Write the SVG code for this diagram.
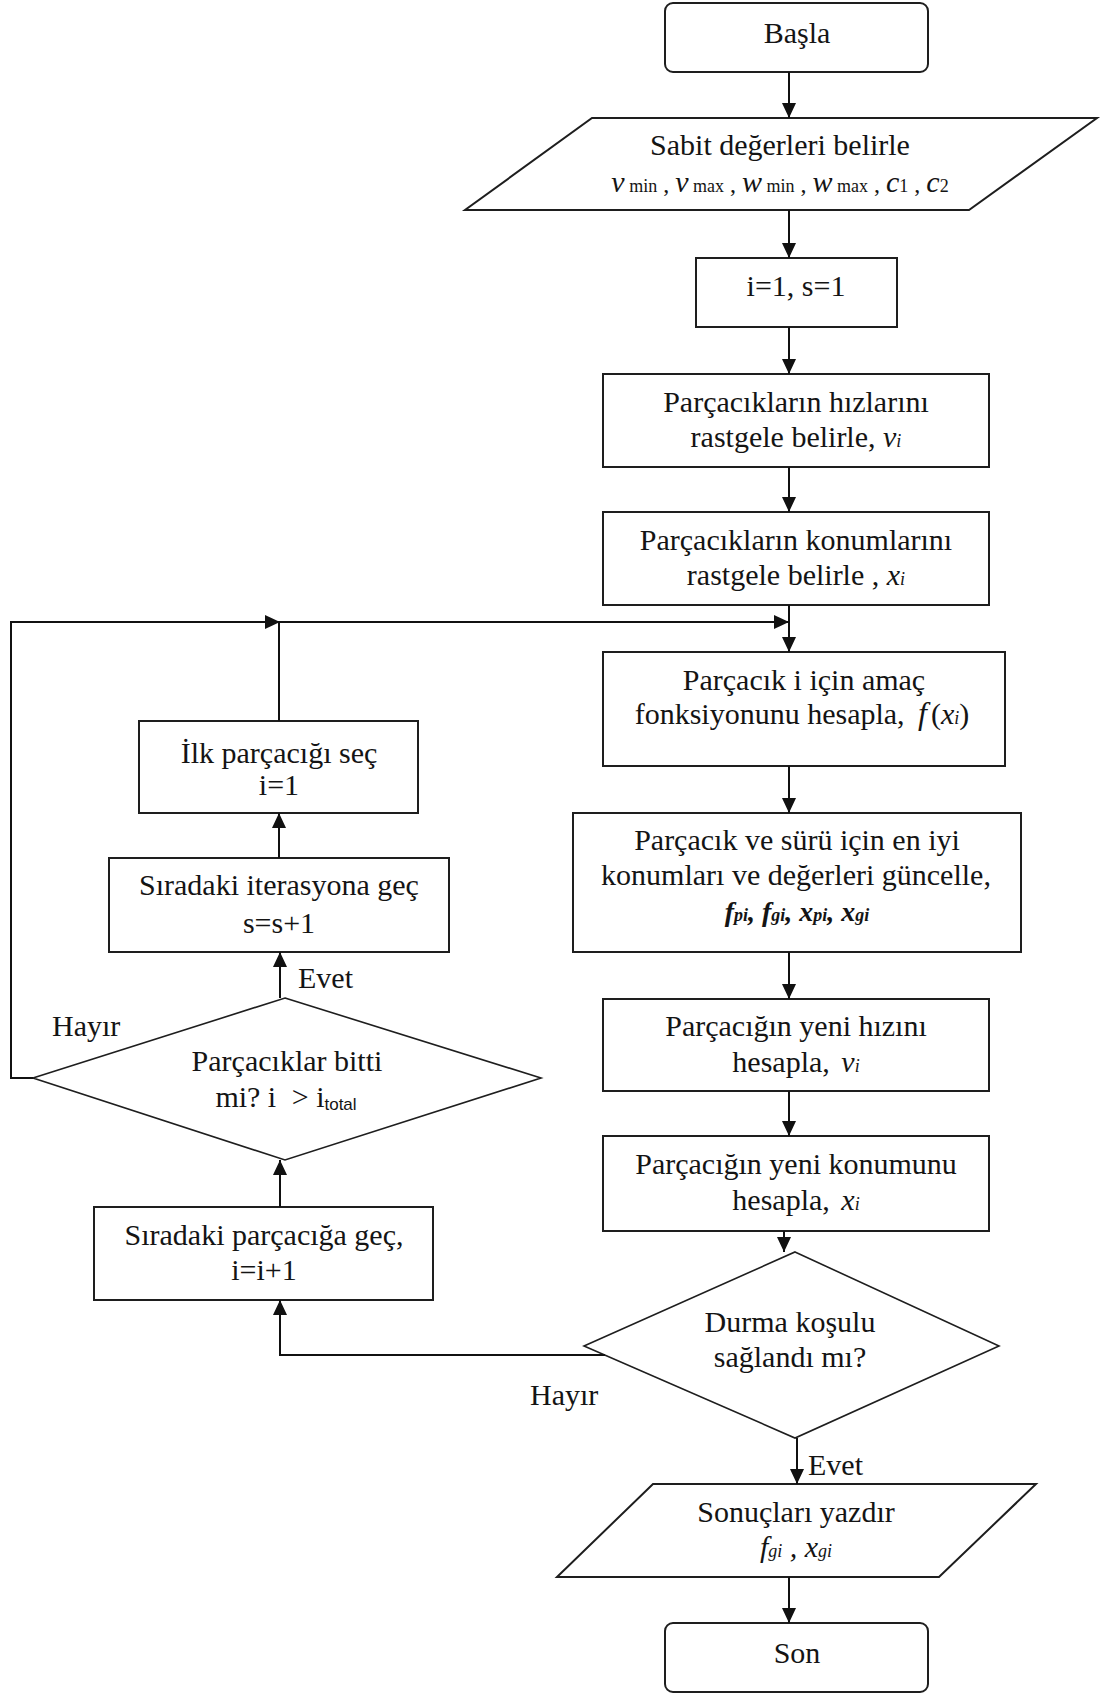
<svg xmlns="http://www.w3.org/2000/svg" width="1103" height="1695" viewBox="0 0 1103 1695">
  <style>
    .box { fill: #fff; stroke: #1e1e1e; stroke-width: 2; }
    .dia { fill: #fff; stroke: #1e1e1e; stroke-width: 1.6; }
    .con { fill: none; stroke: #111; stroke-width: 2; }
    text { font-family: "Liberation Serif", "Times New Roman", serif; font-size: 30px; fill: #141414; text-anchor: middle; }
    .lbl { text-anchor: start; }
    .it { font-style: italic; }
    .sub { font-size: 18px; }
    .sm { font-size: 18px; }
  </style>
  <defs>
    <marker id="arrow" viewBox="0 0 15 14" refX="15" refY="7" markerWidth="15" markerHeight="14" markerUnits="userSpaceOnUse" orient="auto">
      <path d="M0,0 L15,7 L0,14 z" fill="#111"/>
    </marker>
  </defs>

  <rect width="1103" height="1695" fill="#fff"/>

  <!-- start terminal -->
  <g id="start">
    <rect class="box" x="665" y="3" width="263" height="69" rx="8"/>
    <text x="797" y="43">Başla</text>
  </g>

  <!-- constants input -->
  <g id="constants">
    <polygon class="box" points="592,118 1097,118 969,210 465,210"/>
    <text x="780" y="155">Sabit değerleri belirle</text>
    <text x="780" y="192"><tspan class="it" font-size="30">v</tspan><tspan class="sm"> min</tspan><tspan font-size="24"> , </tspan><tspan class="it" font-size="30">v</tspan><tspan class="sm"> max</tspan><tspan font-size="24"> , </tspan><tspan class="it" font-size="30">w</tspan><tspan class="sm"> min</tspan><tspan font-size="24"> , </tspan><tspan class="it" font-size="30">w</tspan><tspan class="sm"> max</tspan><tspan font-size="24"> , </tspan><tspan class="it" font-size="30">c</tspan><tspan class="sm">1</tspan><tspan font-size="24"> , </tspan><tspan class="it" font-size="30">c</tspan><tspan class="sm">2</tspan></text>
  </g>

  <!-- counters -->
  <g id="init">
    <rect class="box" x="696" y="258" width="201" height="69"/>
    <text x="796" y="296">i=1, s=1</text>
  </g>

  <g id="init-velocity">
    <rect class="box" x="603" y="374" width="386" height="93"/>
    <text x="796" y="412">Parçacıkların hızlarını</text>
    <text x="796" y="447">rastgele belirle, <tspan class="it">v</tspan><tspan class="it sub">i</tspan></text>
  </g>

  <g id="init-position">
    <rect class="box" x="603" y="512" width="386" height="93"/>
    <text x="796" y="550">Parçacıkların konumlarını</text>
    <text x="796" y="585">rastgele belirle , <tspan class="it">x</tspan><tspan class="it sub">i</tspan></text>
  </g>

  <g id="fitness">
    <rect class="box" x="603" y="652" width="402" height="114"/>
    <text x="804" y="690">Parçacık i için amaç</text>
    <text x="802" y="724">fonksiyonunu hesapla, <tspan class="it" font-size="32" dx="6">f</tspan><tspan dx="4">(</tspan><tspan class="it">x</tspan><tspan class="it sub">i</tspan><tspan>)</tspan></text>
  </g>

  <g id="update-best">
    <rect class="box" x="573" y="813" width="448" height="139"/>
    <text x="797" y="850">Parçacık ve sürü için en iyi</text>
    <text x="796" y="885">konumları ve değerleri güncelle,</text>
    <text x="797" y="921" class="it" font-weight="bold"><tspan font-size="28">f</tspan><tspan class="sub">pi</tspan><tspan font-size="28">, f</tspan><tspan class="sub">gi</tspan><tspan font-size="28">, x</tspan><tspan class="sub">pi</tspan><tspan font-size="28">, x</tspan><tspan class="sub">gi</tspan></text>
  </g>

  <g id="new-velocity">
    <rect class="box" x="603" y="999" width="386" height="92"/>
    <text x="796" y="1036">Parçacığın yeni hızını</text>
    <text x="796" y="1072">hesapla, <tspan class="it" dx="4">v</tspan><tspan class="it sub">i</tspan></text>
  </g>

  <g id="new-position">
    <rect class="box" x="603" y="1136" width="386" height="95"/>
    <text x="796" y="1174">Parçacığın yeni konumunu</text>
    <text x="796" y="1210">hesapla, <tspan class="it" dx="4">x</tspan><tspan class="it sub">i</tspan></text>
  </g>

  <g id="stop-check">
    <polygon class="dia" points="795,1252 999,1346 795,1438 584,1346"/>
    <text x="790" y="1332">Durma koşulu</text>
    <text x="790" y="1367">sağlandı mı?</text>
  </g>

  <g id="output">
    <polygon class="box" points="653,1484 1036,1484 939,1577 557,1577"/>
    <text x="796" y="1522">Sonuçları yazdır</text>
    <text x="796" y="1557" class="it"><tspan>f</tspan><tspan class="sub">gi</tspan><tspan> , x</tspan><tspan class="sub">gi</tspan></text>
  </g>

  <g id="end">
    <rect class="box" x="665" y="1623" width="263" height="69" rx="8"/>
    <text x="797" y="1663">Son</text>
  </g>

  <g id="next-particle">
    <rect class="box" x="94" y="1207" width="339" height="93"/>
    <text x="264" y="1245">Sıradaki parçacığa geç,</text>
    <text x="264" y="1280">i=i+1</text>
  </g>

  <g id="particles-done">
    <polygon class="dia" points="285,998 541,1078 285,1160 33,1078"/>
    <text x="287" y="1071">Parçacıklar bitti</text>
    <text x="286" y="1107">mi? i <tspan dx="8">&gt;</tspan> <tspan>i</tspan><tspan font-family="Liberation Sans, Arial, sans-serif" font-size="17" dy="3">total</tspan></text>
  </g>

  <g id="next-iteration">
    <rect class="box" x="109" y="858" width="340" height="94"/>
    <text x="279" y="895">Sıradaki iterasyona geç</text>
    <text x="279" y="933">s=s+1</text>
  </g>

  <g id="first-particle">
    <rect class="box" x="139" y="721" width="279" height="92"/>
    <text x="279" y="763">İlk parçacığı seç</text>
    <text x="279" y="795">i=1</text>
  </g>

  <!-- connectors -->
  <g id="connectors">
    <path class="con" d="M789,72 V118" marker-end="url(#arrow)"/>
    <path class="con" d="M789,210 V258" marker-end="url(#arrow)"/>
    <path class="con" d="M789,327 V374" marker-end="url(#arrow)"/>
    <path class="con" d="M789,467 V512" marker-end="url(#arrow)"/>
    <path class="con" d="M789,605 V652" marker-end="url(#arrow)"/>
    <path class="con" d="M279,721 V622 H789" marker-end="url(#arrow)"/>
    <path class="con" d="M33,1078 H11 V622 H280" marker-end="url(#arrow)"/>
    <path class="con" d="M789,766 V813" marker-end="url(#arrow)"/>
    <path class="con" d="M789,952 V999" marker-end="url(#arrow)"/>
    <path class="con" d="M789,1091 V1136" marker-end="url(#arrow)"/>
    <path class="con" d="M784,1231 V1252" marker-end="url(#arrow)"/>
    <path class="con" d="M605,1355 H280 V1300" marker-end="url(#arrow)"/>
    <path class="con" d="M280,1207 V1160" marker-end="url(#arrow)"/>
    <path class="con" d="M280,998 V952" marker-end="url(#arrow)"/>
    <path class="con" d="M279,858 V813" marker-end="url(#arrow)"/>
    <path class="con" d="M797,1438 V1484" marker-end="url(#arrow)"/>
    <path class="con" d="M789,1577 V1623" marker-end="url(#arrow)"/>
  </g>

  <!-- branch labels -->
  <g id="labels">
    <text class="lbl" x="298" y="988">Evet</text>
    <text class="lbl" x="52" y="1036">Hayır</text>
    <text class="lbl" x="530" y="1405">Hayır</text>
    <text class="lbl" x="808" y="1475">Evet</text>
  </g>
</svg>
